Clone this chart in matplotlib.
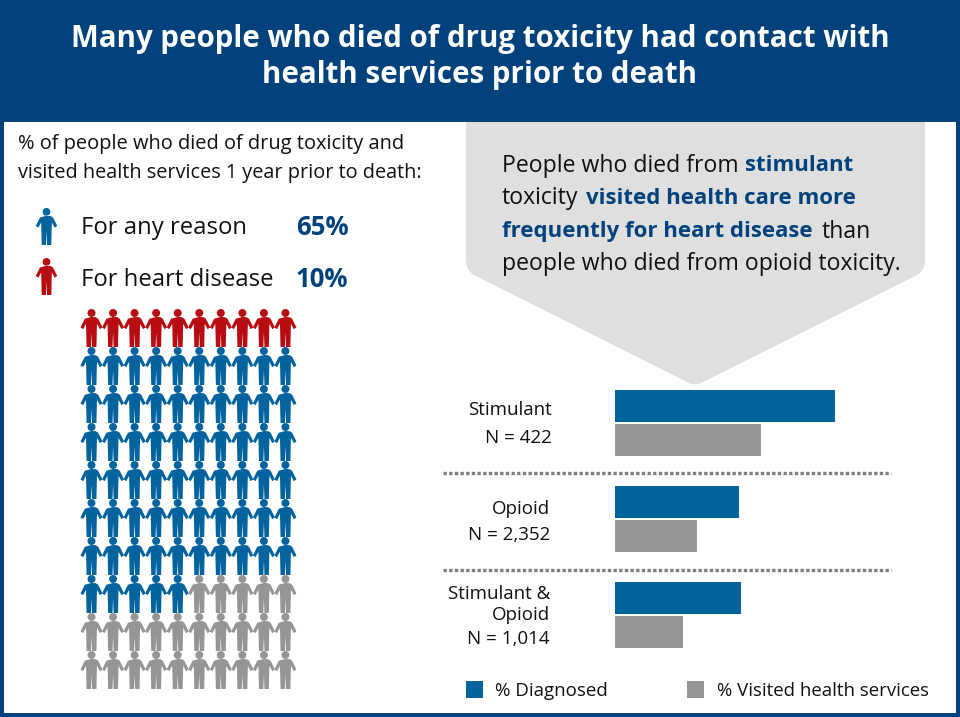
import numpy as np
import matplotlib
matplotlib.use('Agg')
import matplotlib.pyplot as plt
from matplotlib.path import Path
from matplotlib.patches import PathPatch, Rectangle

# chart values
title_lines = ['Many people who died of drug toxicity had contact with',
               'health services prior to death']
icon_labels = ['For heart disease', 'For any reason', 'Neither']
icon_counts = [10, 65, 25]
groups = ['Stimulant', 'Opioid', 'Stimulant &\nOpioid']
group_n = ['N = 422', 'N = 2,352', 'N = 1,014']
pct_diagnosed = [22.0, 12.4, 12.6]
pct_visited = [14.6, 8.2, 6.8]

NAVY = '#01417C'
BLUE = '#02639F'
RED = '#B70D12'
GREY = '#959595'
CALLOUT = '#DFDFDF'
INK = '#111111'
FONT = 'Open Sans'

plt.rcParams['font.family'] = FONT


def person_marker():
    # little figure, head circle plus body, y runs -1 to 1
    right = [(0.0, 0.58), (0.22, 0.57), (0.35, 0.49), (0.58, 0.03), (0.44, -0.06),
             (0.29, 0.22), (0.28, -0.12), (0.26, -1.0), (0.03, -1.0), (0.0, -0.24)]
    left = [(-x, y) for x, y in right[::-1][:-1]]
    body = right + left[:-1] + [right[0]]
    body_path = Path(body, closed=True)
    head = Path.circle((0, 0.79), 0.21)
    return Path.make_compound_path(body_path, head)


def rounded_poly(pts, radius):
    # closed polygon with each corner rounded
    verts, codes = [], []
    n = len(pts)
    for i in range(n):
        p = np.array(pts[i], float)
        a = np.array(pts[i - 1], float)
        b = np.array(pts[(i + 1) % n], float)
        r = radius[i]
        p1 = p + (a - p) / np.linalg.norm(a - p) * r
        p2 = p + (b - p) / np.linalg.norm(b - p) * r
        verts += [p1, p, p2]
        codes += [Path.MOVETO if i == 0 else Path.LINETO, Path.CURVE3, Path.CURVE3]
    verts.append(verts[0])
    codes.append(Path.CLOSEPOLY)
    return Path(verts, codes)


fig = plt.figure(figsize=(9.6, 7.17), dpi=100, facecolor='white')

# page axes in pixels, y downwards
page = fig.add_axes([0, 0, 1, 1])
page.set_xlim(0, 960)
page.set_ylim(717, 0)
page.axis('off')

# callout behind the header
callout = rounded_poly([(466, 100), (925, 100), (925, 271), (695, 386), (466, 271)],
                       [1, 1, 10, 7, 10])
page.add_patch(PathPatch(callout, fc=CALLOUT, ec='none', zorder=1))

# frame and header
page.add_patch(Rectangle((0, 0), 960, 122, fc=NAVY, ec='none', zorder=2))
page.add_patch(Rectangle((0, 0), 4, 717, fc=NAVY, ec='none', zorder=2))
page.add_patch(Rectangle((956, 0), 4, 717, fc=NAVY, ec='none', zorder=2))
page.add_patch(Rectangle((0, 713), 960, 4, fc=NAVY, ec='none', zorder=2))

page.text(480, 38.5, title_lines[0], color='white', fontsize=21.25, fontweight='bold',
          ha='center', va='center', zorder=3)
page.text(480, 74.5, title_lines[1], color='white', fontsize=21.25, fontweight='bold',
          ha='center', va='center', zorder=3)

# left intro
page.text(18, 144, '% of people who died of drug toxicity and', fontsize=14.4, color=INK,
          va='center')
page.text(18, 173, 'visited health services 1 year prior to death:', fontsize=14.3, color=INK,
          va='center')

# icon key
marker = person_marker()
s_icon = (37 * 0.72) ** 2
page.scatter([45.5], [226], s=s_icon, marker=marker, color=BLUE, linewidths=0, zorder=3)
page.scatter([45.5], [276], s=s_icon, marker=marker, color=RED, linewidths=0, zorder=3)
page.text(81, 228, icon_labels[1], fontsize=17.2, color=INK, va='center')
page.text(81, 280, icon_labels[0], fontsize=17.2, color=INK, va='center')
page.text(296, 227.5, '%d%%' % icon_counts[1], fontsize=18.5, color=NAVY, fontweight='bold', va='center')
page.text(296, 279.5, '%d%%' % icon_counts[0], fontsize=18.5, color=NAVY, fontweight='bold', va='center')

# 10 x 10 pictogram
colors = [RED] * icon_counts[0] + [BLUE] * icon_counts[1] + [GREY] * icon_counts[2]
rows, cols = np.divmod(np.arange(sum(icon_counts)), 10)
page.scatter(91.5 + 21.55 * cols, 328 + 38 * rows, s=(38 * 0.72) ** 2, marker=marker,
             c=colors, linewidths=0, zorder=3)

# callout text, bold runs placed where they fall on each line
body_runs = [
    (502, 165.5, 'People who died from', False),
    (745.5, 165.5, 'stimulant', True),
    (502, 198.5, 'toxicity', False),
    (586, 198.5, 'visited health care more', True),
    (502, 231.5, 'frequently for heart disease', True),
    (821.5, 231.5, 'than', False),
    (502, 264.5, 'people who died from opioid toxicity.', False),
]
for x, y, txt, bold in body_runs:
    page.text(x, y, txt, fontsize=16.0 if bold else 16.6, va='center', zorder=3,
              color=NAVY if bold else INK, fontweight='bold' if bold else 'normal')

# bars, one unit of y is one group
ax = fig.add_axes([615 / 960, 1 - 663 / 717, 300 / 960, 288 / 717])
ypos = np.arange(len(groups))
ax.barh(ypos - 0.177, pct_diagnosed, height=0.333, color=BLUE)
ax.barh(ypos + 0.177, pct_visited, height=0.333, color=GREY)
ax.set_xlim(0, 30)
ax.set_ylim(2.5, -0.5)
ax.axis('off')

# group labels
page.text(552, 410, groups[0], fontsize=13.5, color=INK, ha='right', va='center')
page.text(552, 438, group_n[0], fontsize=13.5, color=INK, ha='right', va='center')
page.text(550, 509.5, groups[1], fontsize=13.5, color=INK, ha='right', va='center')
page.text(550, 535.5, group_n[1], fontsize=13.5, color=INK, ha='right', va='center')
first, second = groups[2].split('\n')
page.text(550, 594, first, fontsize=13.5, color=INK, ha='right', va='center')
page.text(550, 615.5, second, fontsize=13.5, color=INK, ha='right', va='center')
page.text(550, 639.5, group_n[2], fontsize=13.5, color=INK, ha='right', va='center')

# dotted separators
for y in [473, 570]:
    page.plot([443, 891], [y, y], color='#7F7F7F', lw=2.4, ls=(0, (1, 0.7)), zorder=3,
              dash_capstyle='butt')

# legend
page.add_patch(Rectangle((466, 680.5), 17, 17.5, fc=BLUE, ec='none'))
page.add_patch(Rectangle((687, 680.5), 17, 17.5, fc=GREY, ec='none'))
page.text(495, 690.5, '% Diagnosed', fontsize=13.5, color=INK, va='center')
page.text(717, 690.5, '% Visited health services', fontsize=13.4, color=INK, va='center')

plt.savefig('out.png', dpi=100)
